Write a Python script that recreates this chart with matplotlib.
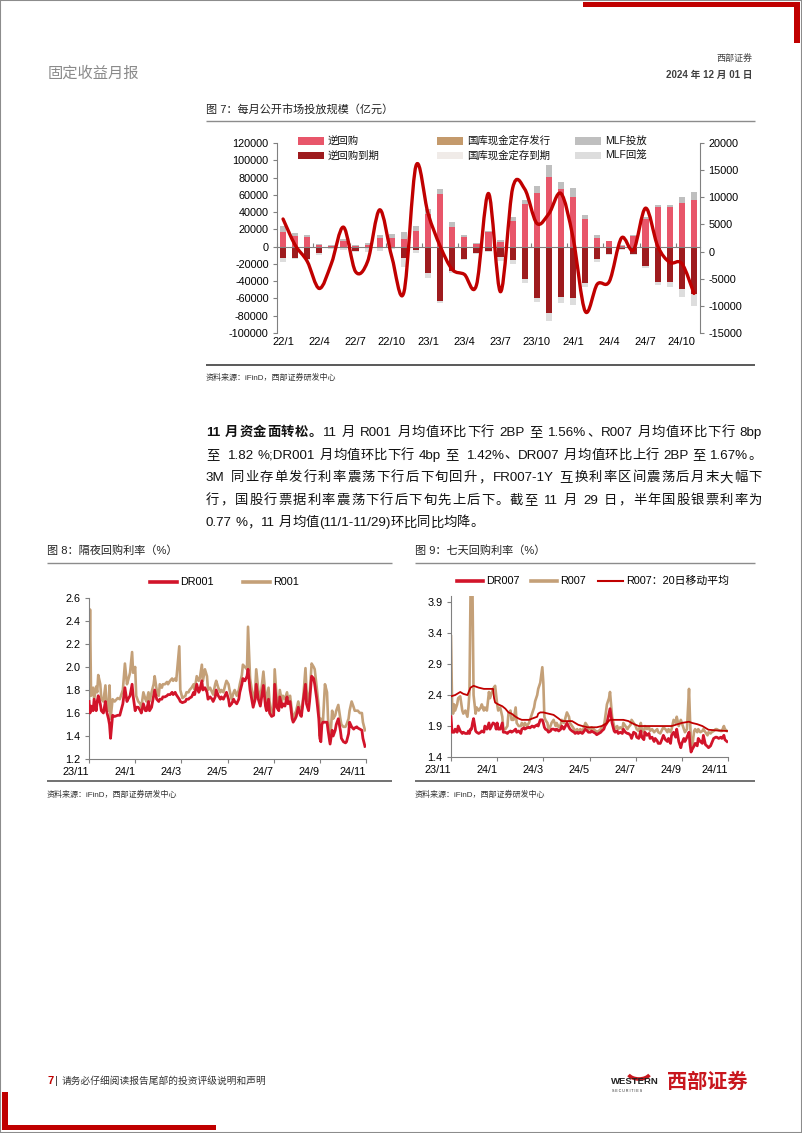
import numpy as np
import matplotlib
matplotlib.use('Agg')
import matplotlib.pyplot as plt
from matplotlib.patches import Rectangle, PathPatch, Arc
from matplotlib.path import Path
from matplotlib.lines import Line2D

FAM = ['Liberation Sans', 'Noto Sans CJK SC']
plt.rcParams['font.family'] = FAM
plt.rcParams['axes.unicode_minus'] = False

# ---------------- data: figure 7 (亿元) ----------------
months = ['22/1', '22/2', '22/3', '22/4', '22/5', '22/6', '22/7', '22/8', '22/9', '22/10', '22/11', '22/12',
          '23/1', '23/2', '23/3', '23/4', '23/5', '23/6', '23/7', '23/8', '23/9', '23/10', '23/11', '23/12',
          '24/1', '24/2', '24/3', '24/4', '24/5', '24/6', '24/7', '24/8', '24/9', '24/10', '24/11']
reverse_repo = [17400, 12700, 11100, 2400, 800, 7100, 500, 1500, 10200, 9500, 8300, 18000,
                38000, 61500, 22500, 11400, 2500, 17300, 5500, 29500, 49000, 62600, 80400, 66500,
                57500, 32300, 10200, 6300, 1000, 12600, 32300, 45700, 45700, 50800, 53600]
mlf_in = [6700, 3100, 2400, 1100, 800, 1600, 1000, 2800, 3200, 4700, 9100, 6200,
          5000, 5100, 5500, 1500, 1500, 1200, 2000, 4600, 5200, 7900, 13800, 8000,
          10300, 4700, 3200, 800, 600, 800, 2500, 2000, 2500, 6700, 10200]
rr_mature = [-12600, -12600, -14200, -7800, -1600, -2000, -4800, -500, -500, -300, -13400, -3500,
             -30000, -63400, -28000, -14200, -7000, -5000, -12200, -16000, -37800, -59500, -77000, -58000,
             -59500, -41800, -14200, -8300, -3000, -8000, -22500, -41000, -41500, -49600, -54400]
mlf_out = [-4700, -1800, -1200, -1500, -1000, -1500, -1000, -5500, -5000, -2000, -9600, -4000,
           -6500, -2000, -2500, -1500, -2000, -1500, -4000, -4000, -4000, -4500, -9000, -7000,
           -8000, -5000, -3800, -1500, -1200, -1800, -1800, -3000, -5500, -8500, -14500]
net_injection = [6000, 1200, -1800, -6800, -2200, 4500, -3700, -1800, 7700, -1000, -7500, 15800,
                 7000, 1000, -3300, -4200, -6200, 10700, -7400, 11700, 11500, 5200, 7000, 10700,
                 2500, -11000, -6000, -5500, 2500, 300, 8000, 1000, -2000, -2200, -7700]
left_ticks = list(range(-100000, 120001, 20000))
right_ticks = list(range(-15000, 20001, 5000))

# ---------------- data: figure 8 (%), trading-day index ----------------
day8 = [0, 1, 2, 4, 5, 7, 8, 9, 11, 12,
        14, 16, 17, 19, 20, 21, 23, 25, 28, 30,
        33, 35, 37, 38, 40, 42, 43, 45, 46, 48,
        50, 51, 53, 55, 56, 58, 59, 61, 63, 64,
        66, 68, 69, 71, 72, 74, 76, 77, 79, 81,
        82, 84, 85, 88, 89, 91, 94, 95, 97, 98,
        100, 102, 103, 105, 107, 108, 110, 111, 113, 115,
        116, 118, 120, 121, 123, 124, 126, 128, 129, 131,
        133, 134, 136, 137, 139, 141, 142, 144, 146, 147,
        149, 150, 152, 154, 155, 157, 159, 160, 162, 163,
        165, 167, 168, 170, 172, 173, 175, 176, 178, 180,
        181, 183, 185, 186, 188, 189, 191, 193, 194, 196,
        198, 199, 201, 202, 204, 206, 207, 209, 211, 212,
        214, 215, 217, 219, 220, 222, 224, 225, 226, 227,
        228, 230, 232, 233, 235, 237, 238, 240, 241, 243,
        245, 246, 248, 250, 251, 253, 254, 256, 258, 259,
        261, 262, 264, 266, 267, 269]
r001 = [1.70, 2.50, 1.75, 1.82, 1.72, 1.83, 1.78, 1.93, 1.85, 1.72,
        1.70, 1.84, 1.70, 1.62, 1.84, 1.55, 1.72, 1.70, 1.73, 1.72,
        1.80, 2.03, 1.85, 1.88, 1.95, 2.13, 1.95, 2.00, 1.75, 1.70,
        1.68, 1.65, 1.78, 1.72, 1.70, 1.78, 1.70, 1.78, 1.85, 1.92,
        1.80, 1.75, 1.85, 1.82, 1.85, 1.85, 1.87, 1.85, 1.88, 1.90,
        1.88, 1.90, 1.88, 2.18, 1.80, 1.73, 1.75, 1.78, 1.78, 1.80,
        1.82, 1.85, 1.80, 1.92, 1.88, 1.90, 2.02, 1.88, 1.98, 1.92,
        1.80, 1.82, 1.78, 1.76, 1.85, 1.88, 1.82, 1.78, 1.80, 1.78,
        1.85, 1.88, 1.85, 1.80, 1.72, 1.78, 1.80, 1.75, 1.80, 1.85,
        1.93, 2.02, 2.00, 1.98, 2.35, 1.90, 1.78, 1.70, 1.80, 1.98,
        1.80, 1.72, 1.80, 1.96, 1.75, 1.70, 1.82, 1.70, 1.60, 1.63,
        1.98, 1.72, 1.68, 1.80, 1.70, 1.75, 1.72, 1.78, 1.72, 1.75,
        1.60, 1.55, 1.60, 1.62, 1.70, 1.62, 1.60, 1.75, 1.99, 1.80,
        1.70, 1.75, 2.03, 2.00, 1.98, 1.82, 1.65, 1.40, 1.55, 1.52,
        1.52, 1.85, 1.78, 1.55, 1.35, 1.62, 1.55, 1.58, 1.62, 1.67,
        1.55, 1.50, 1.48, 1.48, 1.50, 1.55, 1.62, 1.70, 1.65, 1.62,
        1.62, 1.62, 1.60, 1.60, 1.52, 1.45]
dr001 = [1.70, 1.60, 1.66, 1.62, 1.72, 1.62, 1.70, 1.75, 1.68, 1.62,
         1.60, 1.70, 1.62, 1.55, 1.50, 1.38, 1.58, 1.57, 1.58, 1.58,
         1.68, 1.82, 1.70, 1.72, 1.75, 1.85, 1.75, 1.62, 1.65, 1.65,
         1.62, 1.60, 1.68, 1.62, 1.62, 1.70, 1.62, 1.65, 1.75, 1.80,
         1.72, 1.70, 1.72, 1.72, 1.74, 1.74, 1.75, 1.76, 1.76, 1.78,
         1.76, 1.78, 1.76, 1.72, 1.70, 1.69, 1.70, 1.72, 1.72, 1.73,
         1.74, 1.78, 1.76, 1.85, 1.78, 1.80, 1.88, 1.80, 1.82, 1.78,
         1.72, 1.74, 1.72, 1.70, 1.74, 1.80, 1.75, 1.72, 1.74, 1.72,
         1.76, 1.78, 1.72, 1.66, 1.68, 1.72, 1.70, 1.68, 1.72, 1.78,
         1.85, 1.90, 1.88, 1.92, 1.98, 1.80, 1.70, 1.65, 1.72, 1.85,
         1.72, 1.66, 1.72, 1.84, 1.66, 1.62, 1.72, 1.60, 1.57, 1.58,
         1.85, 1.65, 1.62, 1.74, 1.65, 1.68, 1.66, 1.74, 1.68, 1.70,
         1.55, 1.52, 1.55, 1.57, 1.65, 1.58, 1.57, 1.72, 1.85, 1.68,
         1.62, 1.70, 1.92, 1.90, 1.85, 1.72, 1.55, 1.38, 1.35, 1.50,
         1.52, 1.52, 1.52, 1.45, 1.33, 1.45, 1.40, 1.45, 1.50, 1.55,
         1.45, 1.38, 1.35, 1.34, 1.35, 1.42, 1.52, 1.48, 1.46, 1.47,
         1.48, 1.47, 1.46, 1.45, 1.38, 1.31]

# ---------------- data: figure 9 (%), trading-day index ----------------
day9 = [0, 1, 2, 3, 4, 6, 7, 9, 11, 12,
        14, 16, 17, 18, 19, 20, 21, 22, 24, 25,
        27, 29, 30, 32, 33, 35, 37, 38, 41, 43,
        44, 45, 46, 48, 50, 51, 53, 55, 56, 58,
        59, 61, 63, 64, 66, 68, 69, 71, 72, 74,
        76, 77, 79, 81, 82, 84, 85, 87, 89, 90,
        91, 92, 94, 95, 97, 98, 100, 102, 103, 105,
        107, 108, 110, 111, 113, 115, 116, 118, 120, 121,
        123, 124, 126, 128, 129, 131, 133, 134, 136, 137,
        139, 141, 142, 144, 146, 147, 149, 150, 152, 154,
        155, 157, 159, 160, 162, 163, 165, 167, 168, 170,
        172, 173, 175, 176, 178, 180, 181, 183, 185, 186,
        188, 189, 191, 193, 194, 196, 198, 199, 201, 202,
        204, 206, 207, 209, 211, 212, 214, 215, 217, 219,
        220, 222, 224, 225, 227, 228, 230, 232, 233, 234,
        235, 237, 238, 240, 241, 243, 245, 246, 248, 250,
        251, 253, 254, 256, 258, 259, 261, 263, 264, 266,
        267, 269]
r007 = [3.35, 2.30, 2.10, 2.25, 2.15, 2.25, 2.35, 2.38, 2.15, 2.10,
        2.15, 2.05, 2.20, 2.45, 4.00, 4.00, 4.00, 2.40, 2.10, 2.20,
        2.15, 2.20, 2.25, 2.15, 2.20, 2.15, 2.45, 2.35, 2.50, 2.55,
        2.40, 2.25, 2.15, 2.20, 2.05, 1.85, 1.85, 1.90, 2.10, 2.15,
        2.00, 2.00, 2.20, 1.95, 1.90, 1.90, 1.95, 1.90, 1.95, 1.90,
        1.95, 2.00, 2.10, 2.20, 2.30, 2.40, 2.50, 2.60, 2.85, 2.60,
        2.05, 2.00, 1.95, 1.85, 1.90, 1.95, 2.00, 1.90, 1.95, 1.88,
        1.92, 2.00, 1.95, 2.00, 2.12, 2.05, 1.95, 1.90, 1.85, 1.82,
        1.85, 1.80, 1.85, 1.82, 1.85, 1.95, 1.90, 1.85, 1.85, 1.88,
        1.85, 1.82, 1.80, 1.82, 1.85, 1.88, 1.90, 2.00, 2.25, 2.35,
        2.45, 2.05, 1.90, 1.85, 1.90, 1.85, 1.88, 1.85, 1.95, 1.90,
        1.85, 1.88, 1.92, 2.00, 1.95, 1.90, 1.85, 1.82, 1.95, 1.85,
        1.80, 1.90, 1.85, 1.88, 1.82, 1.85, 1.80, 1.82, 1.85, 1.80,
        1.78, 1.85, 1.88, 1.85, 1.80, 1.85, 1.80, 1.85, 2.00, 1.95,
        2.05, 1.90, 2.00, 1.95, 1.85, 1.80, 1.85, 2.50, 2.00, 1.60,
        1.55, 1.82, 1.85, 1.80, 1.85, 1.80, 1.82, 1.85, 1.80, 1.75,
        1.80, 1.78, 1.80, 1.82, 1.85, 1.85, 1.83, 1.82, 1.82, 1.90,
        1.85, 1.82]
dr007 = [2.05, 1.80, 1.80, 1.80, 1.85, 1.80, 1.90, 1.82, 1.78, 1.80,
         1.78, 1.78, 1.82, 1.78, 1.85, 1.85, 1.95, 2.02, 1.82, 1.80,
         1.78, 1.80, 1.82, 1.80, 1.90, 1.85, 1.95, 1.85, 1.95, 1.93,
         1.85, 1.95, 1.85, 1.85, 1.95, 1.80, 1.80, 1.78, 1.80, 1.82,
         1.80, 1.82, 1.85, 1.80, 1.82, 1.78, 1.85, 1.87, 1.85, 1.87,
         1.88, 1.87, 1.90, 1.88, 1.90, 1.92, 1.90, 2.00, 2.00, 1.95,
         1.88, 1.85, 1.83, 1.80, 1.82, 1.85, 1.85, 1.83, 1.85, 1.82,
         1.85, 1.90, 1.85, 1.88, 1.95, 1.88, 1.85, 1.82, 1.80, 1.78,
         1.80, 1.78, 1.80, 1.78, 1.80, 1.85, 1.82, 1.80, 1.80, 1.82,
         1.80, 1.78, 1.76, 1.78, 1.80, 1.82, 1.85, 1.90, 1.95, 2.10,
         2.18, 1.95, 1.82, 1.80, 1.82, 1.78, 1.80, 1.78, 1.85, 1.80,
         1.78, 1.78, 1.75, 1.70, 1.80, 1.78, 1.72, 1.70, 1.82, 1.72,
         1.68, 1.80, 1.75, 1.78, 1.70, 1.72, 1.65, 1.70, 1.66, 1.62,
         1.62, 1.70, 1.75, 1.68, 1.65, 1.70, 1.62, 1.75, 1.80, 1.72,
         1.85, 1.65, 1.55, 1.62, 1.70, 1.65, 1.72, 1.80, 1.60, 1.48,
         1.52, 1.58, 1.62, 1.58, 1.70, 1.65, 1.62, 1.75, 1.60, 1.57,
         1.55, 1.58, 1.62, 1.70, 1.72, 1.72, 1.70, 1.72, 1.70, 1.75,
         1.68, 1.65]
day9_ma = [0, 4, 9, 12, 16, 19, 22, 27, 32, 37,
           41, 42, 43, 46, 50, 53, 56, 59, 63, 66,
           69, 72, 76, 79, 84, 85, 87, 90, 95, 100,
           105, 108, 115, 118, 121, 124, 128, 133, 137, 142,
           147, 152, 155, 163, 168, 173, 176, 180, 183, 215,
           219, 225, 232, 235, 240, 245, 248, 251, 258, 269]
r007_ma20 = [2.38, 2.40, 2.45, 2.42, 2.40, 2.52, 2.55, 2.52, 2.50, 2.50,
             2.50, 2.35, 2.28, 2.25, 2.22, 2.18, 2.12, 2.10, 2.05, 2.02,
             2.00, 2.00, 2.00, 2.02, 2.05, 2.10, 2.12, 2.12, 2.10, 2.08,
             2.02, 1.98, 1.98, 1.98, 1.95, 1.92, 1.90, 1.88, 1.88, 1.88,
             1.90, 1.95, 2.00, 2.00, 2.00, 1.98, 1.95, 1.92, 1.90, 1.90,
             1.92, 1.95, 1.97, 1.95, 1.93, 1.90, 1.87, 1.84, 1.83, 1.82]
date_ticks = [0, 45, 90, 135, 180, 225, 270]
date_labels = ['23/11', '24/1', '24/3', '24/5', '24/7', '24/9', '24/11']

# ---------------- colours ----------------
C_RR = '#E8566A'
C_RRM = '#9E1B1E'
C_TCD_IN = '#C49A6C'
C_TCD_OUT = '#F0EBE8'
C_MLF_IN = '#BFBFBF'
C_MLF_OUT = '#DDDDDD'
C_NET = '#C00000'
C_RED = '#D2142A'
C_TAN = '#C4A078'
C_MA = '#C00000'
GRID = '#808080'

W, H = 802, 1133
fig = plt.figure(figsize=(W / 100, H / 100), dpi=100)
fig.patch.set_facecolor('white')


def fx(x):
    return x / W


def fy(y):
    return 1 - y / H


def hline(x0, x1, y, color, lw):
    fig.add_artist(Line2D([fx(x0), fx(x1)], [fy(y), fy(y)], color=color, lw=lw,
                          transform=fig.transFigure, solid_capstyle='butt'))


def rect(x0, y0, x1, y1, color):
    fig.add_artist(Rectangle((fx(x0), fy(y1)), fx(x1) - fx(x0), fy(y0) - fy(y1),
                             transform=fig.transFigure, facecolor=color, edgecolor='none'))


def ftext(x, y, s, **kw):
    kw.setdefault('va', 'center')
    return fig.text(fx(x), fy(y), s, **kw)


# page frame and decorations
fig.add_artist(Rectangle((0, 0), 1, 1, fill=False, edgecolor='#8c8c8c', lw=1.5, transform=fig.transFigure))
rect(583, 2, 800, 7, '#C00000')
rect(794, 2, 800, 43, '#C00000')
rect(2, 1092, 8, 1130, '#C00000')
rect(2, 1125, 216, 1130, '#C00000')

ftext(48, 73, '固定收益月报', fontsize=11, color='#8a8a8a')
ftext(752, 58, '西部证券', fontsize=6.5, ha='right', color='#404040')
ftext(752, 75, '2024 年 12 月 01 日', fontsize=7, ha='right', color='#404040', fontweight='bold')

# ---------------- Figure 7 ----------------
ftext(206, 109, '图 7：每月公开市场投放规模（亿元）', fontsize=8, color='#222222')
hline(206, 755, 121, '#8c8c8c', 1.0)
hline(206, 755, 365, '#595959', 1.4)
ftext(206, 378, '资料来源：iFinD，西部证券研发中心', fontsize=5.8, color='#333333')

ax7 = fig.add_axes([fx(277), fy(333), (700 - 277) / W, (333 - 143) / H])
xi = np.arange(len(months))
bw = 0.52
ax7.bar(xi, reverse_repo, bw, color=C_RR, zorder=1)
ax7.bar(xi, mlf_in, bw, bottom=reverse_repo, color=C_MLF_IN, zorder=1)
ax7.bar(xi, rr_mature, bw, color=C_RRM, zorder=1)
ax7.bar(xi, mlf_out, bw, bottom=rr_mature, color=C_MLF_OUT, zorder=1)
ax7.set_xlim(-0.5, len(months) - 0.5)
ax7.set_ylim(left_ticks[0], left_ticks[-1])
ax7.set_yticks(left_ticks)
ax7.set_yticklabels([str(v) for v in left_ticks], fontsize=7.8)
for s in ['top', 'right']:
    ax7.spines[s].set_visible(False)
ax7.spines['bottom'].set_position(('data', 0))
ax7.spines['bottom'].set_color(GRID)
ax7.spines['left'].set_color(GRID)
ax7.set_xticks(np.arange(-0.5, len(months), 3))
ax7.set_xticklabels([])
ax7.tick_params(axis='x', direction='in', length=3, color=GRID)
ax7.tick_params(axis='y', direction='out', length=3, color=GRID, pad=3)
for i in range(0, len(months), 3):
    ax7.text(i, -0.047, months[i], transform=ax7.get_xaxis_transform(), ha='center', va='center',
             fontsize=8)

ax7r = ax7.twinx()
ax7r.set_ylim(right_ticks[0], right_ticks[-1])
ax7r.set_yticks(right_ticks)
ax7r.set_yticklabels([str(v) for v in right_ticks], fontsize=7.8)
for s in ['top', 'left', 'bottom']:
    ax7r.spines[s].set_visible(False)
ax7r.spines['right'].set_color(GRID)
ax7r.tick_params(axis='y', direction='out', length=3, color=GRID, pad=3)

# smoothed net-injection line (Catmull-Rom rendered as Bezier segments)
xs = list(xi.astype(float))
ys = list(net_injection)
n = len(xs)
verts = [(xs[0], ys[0])]
codes = [Path.MOVETO]
for i in range(n - 1):
    p0 = i - 1 if i > 0 else i
    p3 = i + 2 if i + 2 < n else i + 1
    c1 = (xs[i] + (xs[i + 1] - xs[p0]) / 6, ys[i] + (ys[i + 1] - ys[p0]) / 6)
    c2 = (xs[i + 1] - (xs[p3] - xs[i]) / 6, ys[i + 1] - (ys[p3] - ys[i]) / 6)
    verts += [c1, c2, (xs[i + 1], ys[i + 1])]
    codes += [Path.CURVE4] * 3
ax7r.add_patch(PathPatch(Path(verts, codes), fill=False, edgecolor=C_NET, lw=2.4,
                         capstyle='round', joinstyle='round', zorder=3))

# legend of figure 7
leg7 = [('逆回购', C_RR, 298, 141), ('逆回购到期', C_RRM, 298, 156),
        ('国库现金定存发行', C_TCD_IN, 437, 141), ('国库现金定存到期', C_TCD_OUT, 437, 156),
        ('MLF投放', C_MLF_IN, 575, 141), ('MLF回笼', C_MLF_OUT, 575, 156)]
for lab, col, lx, ly in leg7:
    rect(lx, ly - 3.5, lx + 26, ly + 3.5, col)
    ftext(lx + 30, ly, lab, fontsize=7.5, color='#111111')

# ---------------- paragraph ----------------
BODY = 9.6
renderer = fig.canvas.get_renderer()
_wcache = {}


def tokw(tok, weight):
    key = (tok, weight)
    if key not in _wcache:
        t = fig.text(0, 0, tok, fontsize=BODY, fontweight=weight)
        _wcache[key] = t.get_window_extent(renderer).width
        t.remove()
    return _wcache[key]


SPW = tokw('a a', 'normal') - tokw('aa', 'normal')


def tokenize(s, weight):
    toks, buf = [], ''
    for ch in s:
        if ch == ' ':
            if buf:
                toks.append((buf, weight))
                buf = ''
            toks.append((' ', weight))
        elif ord(ch) > 0x2E80:
            if buf:
                toks.append((buf, weight))
                buf = ''
            toks.append((ch, weight))
        else:
            buf += ch
    if buf:
        toks.append((buf, weight))
    return toks


def draw_line(segs, x0, x1, yb, justify=True):
    toks = []
    for s, wgt in segs:
        toks += tokenize(s, wgt)
    widths = [SPW if t == ' ' else tokw(t, wgt) for t, wgt in toks]
    gap = ((x1 - x0) - sum(widths)) / (len(toks) - 1) if justify else 0.0
    x = x0
    for (t, wgt), w in zip(toks, widths):
        if t != ' ':
            fig.text(fx(x), fy(yb), t, fontsize=BODY, fontweight=wgt, va='baseline', ha='left',
                     color='#111111')
        x += w + gap


para = [
    ([('11 月资金面转松。', 'bold'), ('11 月 R001 月均值环比下行 2BP 至 1.56%、R007 月均值环比下行 8bp', 'normal')], True),
    ([('至  1.82 %;DR001 月均值环比下行 4bp 至  1.42%、DR007 月均值环比上行 2BP 至 1.67%。', 'normal')], True),
    ([('3M 同业存单发行利率震荡下行后下旬回升，FR007-1Y 互换利率区间震荡后月末大幅下', 'normal')], True),
    ([('行，国股行票据利率震荡下行后下旬先上后下。截至 11 月 29 日，半年国股银票利率为', 'normal')], True),
    ([('0.77 %，11 月均值(11/1-11/29)环比同比均降。', 'normal')], False),
]
for k, (segs, just) in enumerate(para):
    draw_line(segs, 206, 762, 436 + k * 22.6, just)


# ---------------- Figures 8 and 9 ----------------
def style_rate_axes(ax, yticks):
    for s in ['top', 'right']:
        ax.spines[s].set_visible(False)
    for s in ['left', 'bottom']:
        ax.spines[s].set_color(GRID)
    ax.set_xlim(date_ticks[0], date_ticks[-1])
    ax.set_xticks(date_ticks)
    ax.set_xticklabels(date_labels, fontsize=7.8)
    for lab in ax.get_xticklabels():
        lab.set_ha('right')
    ax.set_yticks(yticks)
    ax.set_yticklabels(['%.1f' % v for v in yticks], fontsize=7.8)
    ax.tick_params(direction='out', length=3, color=GRID, pad=3)


ftext(47, 551, '图 8：隔夜回购利率（%）', fontsize=8, color='#222222')
hline(47, 392, 563, '#8c8c8c', 1.0)
hline(47, 392, 781, '#595959', 1.2)
ftext(47, 795, '资料来源：iFinD，西部证券研发中心', fontsize=5.8, color='#333333')

ax8 = fig.add_axes([fx(89), fy(759), (366 - 89) / W, (759 - 598) / H])
ax8.plot(day8, dr001, color=C_RED, lw=2.0, zorder=3, solid_joinstyle='round')
ax8.plot(day8, r001, color=C_TAN, lw=1.9, zorder=2, solid_joinstyle='round')
ax8.set_ylim(1.2, 2.6)
style_rate_axes(ax8, [1.2, 1.4, 1.6, 1.8, 2.0, 2.2, 2.4, 2.6])

fig.add_artist(Line2D([fx(150), fx(177)], [fy(582)] * 2, color=C_RED, lw=2.6, transform=fig.transFigure))
ftext(180, 582, 'DR001', fontsize=7.8)
fig.add_artist(Line2D([fx(243), fx(270)], [fy(582)] * 2, color=C_TAN, lw=2.6, transform=fig.transFigure))
ftext(273, 582, 'R001', fontsize=7.8)

ftext(415, 551, '图 9：七天回购利率（%）', fontsize=8, color='#222222')
hline(415, 755, 563, '#8c8c8c', 1.0)
hline(415, 755, 781, '#595959', 1.2)
ftext(415, 795, '资料来源：iFinD，西部证券研发中心', fontsize=5.8, color='#333333')

ax9 = fig.add_axes([fx(451), fy(757), (728 - 451) / W, (757 - 596) / H])
ax9.plot(day9, r007, color=C_TAN, lw=1.9, zorder=2, solid_joinstyle='round')
ax9.plot(day9, dr007, color=C_RED, lw=2.0, zorder=3, solid_joinstyle='round')
ax9.plot(day9_ma, r007_ma20, color=C_MA, lw=1.3, zorder=4)
ax9.set_ylim(1.4, 4.0)
style_rate_axes(ax9, [1.4, 1.9, 2.4, 2.9, 3.4, 3.9])

fig.add_artist(Line2D([fx(457), fx(483)], [fy(581)] * 2, color=C_RED, lw=2.6, transform=fig.transFigure))
ftext(486, 581, 'DR007', fontsize=7.8)
fig.add_artist(Line2D([fx(531), fx(557)], [fy(581)] * 2, color=C_TAN, lw=2.6, transform=fig.transFigure))
ftext(560, 581, 'R007', fontsize=7.8)
fig.add_artist(Line2D([fx(598), fx(623)], [fy(581)] * 2, color=C_MA, lw=1.5, transform=fig.transFigure))
ftext(626, 581, 'R007：20日移动平均', fontsize=7.8)

# ---------------- footer ----------------
ftext(47, 1081, '7', fontsize=8, color='#C00000', fontweight='bold')
ftext(55, 1081, '|', fontsize=8, color='#333333')
ftext(62, 1081, '请务必仔细阅读报告尾部的投资评级说明和声明', fontsize=7, color='#333333')
ftext(611, 1082, 'WESTERN', fontsize=6.8, fontweight='bold', color='#222222')
ftext(612, 1091, 'S E C U R I T I E S', fontsize=2.6, color='#222222')
fig.add_artist(Arc((fx(639), fy(1071)), 24 / W, 16 / H, theta1=195, theta2=345,
                   transform=fig.transFigure, color='#C8161D', lw=2.6))
ftext(667, 1082, '西部证券', fontsize=14.5, fontweight='bold', color='#C8161D')

fig.savefig('out.png', dpi=100)
